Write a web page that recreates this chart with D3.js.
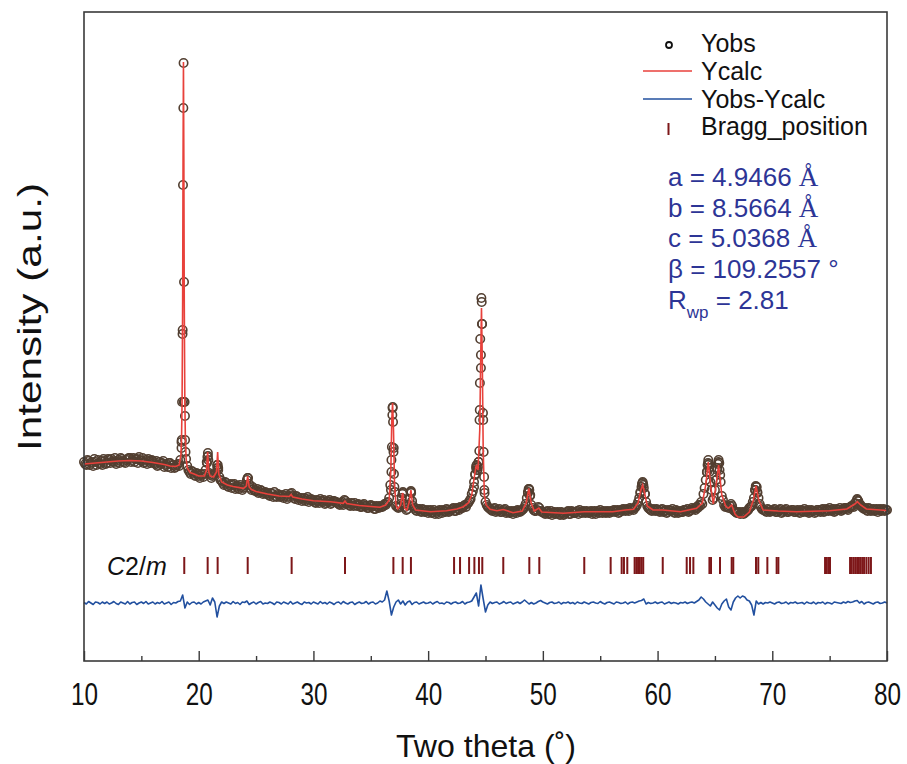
<!DOCTYPE html>
<html>
<head>
<meta charset="utf-8">
<title>Rietveld refinement</title>
<script src="https://cdn.jsdelivr.net/npm/d3@7"></script>
<style>
  body { margin: 0; background: #fff; }
  svg text { font-family: "Liberation Sans", Arial, sans-serif; }
</style>
</head>
<body>
<div id="chart"></div>
<script>

// observed pattern, sampled every 0.2 deg from 10.0 to 80.0 (a.u.)
var obsStart = 10, obsStep = 0.2;
var yObs = [
  58, 55, 59, 57, 54, 58, 60, 56, 55, 59,
  57, 60, 61, 58, 56, 60, 62, 59, 57, 61,
  62, 60, 58, 61, 63, 59, 57, 60, 61, 57,
  59, 56, 54, 58, 57, 53, 56, 57, 52, 55,
  53, 56, 60, 190, 104, 54, 48, 49, 45, 47,
  44, 46, 43, 50, 64, 45, 44, 46, 55, 43,
  39, 35, 37, 33, 36, 35, 31, 34, 35, 30,
  33, 40, 36, 30, 31, 29, 27, 30, 26, 28,
  27, 24, 26, 28, 23, 25, 24, 22, 26, 23,
  26, 24, 21, 23, 22, 19, 22, 21, 18, 21,
  20, 17, 19, 21, 18, 16, 19, 20, 17, 19,
  18, 16, 17, 15, 19, 17, 14, 16, 17, 14,
  15, 13, 16, 14, 12, 15, 14, 11, 13, 14,
  13, 16, 17, 22, 60, 72, 14, 12, 16, 27,
  13, 11, 21, 19, 12, 9, 11, 8, 10, 9,
  7, 10, 8, 6, 9, 10, 7, 9, 11, 8,
  10, 12, 9, 11, 13, 12, 15, 16, 19, 26,
  38, 54, 58, 165, 100, 18, 13, 11, 9, 12,
  9, 11, 8, 10, 7, 9, 8, 6, 9, 10,
  8, 10, 13, 22, 31, 15, 10, 9, 13, 9,
  8, 6, 9, 7, 5, 8, 7, 6, 8, 5,
  7, 9, 6, 8, 7, 9, 10, 7, 8, 9,
  7, 9, 8, 6, 9, 10, 7, 8, 9, 7,
  8, 10, 9, 7, 10, 11, 9, 10, 12, 11,
  12, 15, 22, 33, 32, 18, 12, 10, 11, 9,
  10, 8, 11, 9, 7, 10, 9, 8, 10, 7,
  9, 8, 10, 11, 9, 12, 11, 13, 15, 18,
  26, 40, 57, 38, 20, 30, 52, 50, 24, 15,
  14, 12, 16, 10, 8, 7, 6, 8, 7, 9,
  12, 14, 22, 33, 22, 13, 10, 9, 11, 8,
  9, 11, 8, 10, 7, 9, 11, 8, 9, 10,
  8, 10, 7, 9, 11, 8, 7, 10, 9, 8,
  10, 8, 11, 9, 10, 12, 9, 8, 11, 10,
  9, 11, 12, 10, 13, 14, 17, 20, 16, 13,
  11, 10, 12, 9, 11, 10, 8, 11, 10, 9,
  10
];

// observed pattern, in-between points 10.1 ... 79.9
var midStart = 10.1;
var yObsMid = [
  56, 60, 55, 58, 61, 55, 57, 59, 61, 56,
  61, 57, 59, 62, 58, 57, 61, 58, 60, 62,
  58, 62, 61, 57, 60, 62, 58, 56, 59, 60,
  57, 59, 55, 56, 59, 55, 53, 57, 55, 52,
  55, 54, 78, 118, 61, 50, 46, 48, 44, 46,
  42, 45, 46, 58, 47, 42, 45, 47, 52, 40,
  37, 38, 34, 35, 32, 36, 33, 31, 33, 32,
  35, 42, 32, 33, 29, 31, 28, 29, 27, 26,
  25, 27, 23, 24, 26, 23, 25, 24, 21, 24,
  27, 22, 24, 20, 22, 21, 19, 23, 20, 19,
  18, 20, 17, 19, 20, 17, 18, 16, 19, 18,
  17, 15, 18, 20, 16, 15, 17, 14, 15, 16,
  13, 15, 14, 12, 14, 13, 11, 14, 12, 13,
  14, 15, 18, 35, 112, 28, 13, 13, 22, 16,
  10, 15, 29, 14, 10, 11, 9, 11, 8, 10,
  9, 7, 10, 8, 6, 9, 10, 8, 10, 9,
  11, 9, 12, 10, 12, 14, 13, 17, 21, 29,
  46, 50, 110, 196, 30, 15, 12, 10, 11, 8,
  10, 8, 9, 11, 8, 7, 9, 8, 7, 9,
  9, 11, 16, 28, 25, 12, 9, 10, 12, 8,
  7, 8, 6, 9, 7, 6, 8, 5, 7, 6,
  8, 6, 9, 7, 8, 6, 8, 9, 7, 8,
  8, 6, 9, 8, 7, 8, 9, 7, 8, 9,
  9, 8, 10, 8, 9, 10, 11, 9, 11, 10,
  13, 18, 27, 37, 26, 14, 11, 9, 10, 11,
  9, 10, 8, 10, 8, 9, 11, 7, 9, 8,
  8, 10, 9, 8, 10, 11, 10, 12, 14, 16,
  32, 48, 52, 30, 22, 40, 58, 38, 20, 13,
  13, 14, 14, 9, 7, 8, 7, 6, 8, 10,
  13, 18, 30, 28, 16, 11, 10, 8, 10, 9,
  10, 8, 9, 11, 8, 10, 8, 9, 10, 8,
  9, 8, 10, 8, 9, 10, 8, 9, 7, 10,
  9, 10, 8, 11, 9, 10, 11, 9, 10, 12,
  10, 12, 11, 12, 14, 13, 16, 19, 15, 12,
  12, 9, 11, 10, 9, 11, 10, 9, 11, 10
];

// extra observed points on the reflections [2theta, intensity]
var yObsPeaks = [
  [18.50, 72], [18.52, 80], [18.55, 118], [18.59, 186], [18.63, 335], [18.66, 412],
  [18.68, 457], [18.72, 238], [18.77, 118], [18.81, 80], [18.85, 68],
  [20.72, 57], [20.76, 63], [20.80, 67], [20.84, 60],
  [21.62, 52], [21.66, 55], [21.70, 50], [24.26, 42],
  [36.76, 30], [36.80, 48], [36.84, 73], [36.88, 105], [36.91, 113], [36.94, 98],
  [36.98, 68], [37.02, 46], [37.06, 33],
  [37.76, 26], [37.80, 28], [38.48, 28], [38.52, 27],
  [44.00, 33], [44.10, 45], [44.18, 52], [44.23, 55], [44.28, 50], [44.34, 53],
  [44.40, 58], [44.46, 69], [44.48, 100], [44.51, 137], [44.54, 181], [44.60, 152],
  [44.64, 222], [44.67, 218], [44.70, 196], [44.78, 107], [44.84, 68], [44.88, 43], [44.92, 27],
  [48.70, 27], [48.76, 31], [48.82, 30], [48.88, 24],
  [58.50, 28], [58.64, 36], [58.70, 38], [58.76, 35], [58.90, 26],
  [64.30, 48], [64.36, 55], [64.42, 60], [64.48, 56], [64.52, 48],
  [65.12, 40], [65.20, 50], [65.26, 56], [65.32, 60], [65.38, 57], [65.46, 45],
  [68.50, 30], [68.56, 34], [68.64, 33], [68.70, 27],
  [77.40, 21], [77.46, 19]
];

// calculated profile [2theta, intensity]
var yCalc = [
  [10.0, 56], [11.0, 57], [12.0, 58], [13.0, 59], [14.0, 59.5], [15.0, 59], [16.0, 57.5],
  [17.0, 55.5], [17.5, 54], [18.0, 53.5], [18.3, 55], [18.45, 65], [18.5, 80], [18.55, 118],
  [18.60, 220], [18.635, 360], [18.67, 458], [18.705, 360], [18.74, 220], [18.79, 118],
  [18.84, 80], [18.9, 62], [19.0, 52], [19.25, 47.5], [19.6, 46], [20.0, 44], [20.5, 44],
  [20.68, 50], [20.78, 68], [20.88, 48], [21.0, 44], [21.3, 43], [21.55, 48], [21.65, 68],
  [21.75, 46], [22.0, 38], [22.5, 35], [23.0, 33.5], [23.9, 31.7], [24.15, 34], [24.27, 44],
  [24.4, 33], [24.6, 30.5], [25.0, 28.5], [26.0, 26], [27.0, 24], [27.9, 23.5], [28.05, 25.5],
  [28.2, 23], [29.0, 21], [30.0, 19.3], [31.5, 18.3], [32.6, 16.7], [32.75, 19], [32.9, 16.5],
  [34.0, 14.5], [35.0, 13.5], [35.8, 12.7], [36.3, 15], [36.6, 20], [36.75, 50], [36.83, 100],
  [36.9, 117], [36.98, 90], [37.07, 35], [37.2, 15], [37.35, 11], [37.6, 15], [37.78, 27],
  [37.95, 12], [38.15, 10], [38.35, 18], [38.5, 30], [38.65, 15], [38.9, 10], [40.2, 8.3],
  [41.6, 9.3], [42.5, 11], [43.07, 13.3], [43.5, 17], [43.8, 25], [44.05, 45], [44.2, 55],
  [44.35, 50], [44.5, 90], [44.58, 160], [44.65, 212], [44.72, 160], [44.8, 70], [44.9, 25],
  [45.05, 15], [45.4, 10.7], [46.0, 9.3], [46.55, 10.5], [47.4, 7.3], [48.2, 9], [48.55, 17],
  [48.78, 31.7], [48.98, 17], [49.25, 9], [49.65, 12], [49.9, 8], [51.8, 6.7], [53.6, 8.3],
  [56.1, 8.3], [57.2, 10], [57.9, 10.7], [58.3, 17], [58.55, 30], [58.7, 35], [58.85, 28],
  [59.1, 14], [59.6, 10], [60.45, 10], [62.0, 8.3], [63.4, 11.7], [63.9, 17], [64.2, 35],
  [64.42, 58], [64.65, 32], [64.86, 16], [65.1, 35], [65.32, 55], [65.6, 25], [65.96, 13.3],
  [66.2, 12], [66.46, 15], [66.75, 6], [67.0, 3], [67.5, 3], [68.0, 8], [68.35, 20],
  [68.58, 34], [68.82, 20], [69.2, 10], [70.5, 9], [72.1, 8.3], [75.0, 9.3], [76.5, 11],
  [77.2, 16], [77.42, 18.3], [77.7, 15], [78.2, 11], [79.4, 10], [80.0, 9.5]
];

// difference Yobs - Ycalc, on the 0.2 deg grid of yObs
var yDiff = [
  0.5, -1, 1.5, 0, -1.5, 1, 0.5, -1, 1, -0.5,
  1, -1, 0, 1.5, -0.5, -1.5, 1, 0, -1, 1.5,
  -1, 0.5, 1, -1.5, 0, 1, -0.5, 1.5, -1, 0,
  1, -1, 0.5, -0.5, 1.5, -1, 0, 1, -1.5, 0.5,
  0, 1.5, 2, 8, -5, 1, -1.5, 0.5, 1, -1,
  0.5, -1, 1, 2, 3, -2, 5, 1, -14, -3,
  1, -0.5, 1, 0, -1, 1.5, -0.5, 0.5, -1.5, 1,
  0.5, 2, -1.5, 0, 1, -1, 0.5, 1.5, -1, 0,
  -0.5, 1, 0, -1.5, 1, 0.5, -1, 1, 0, -1,
  1.5, -1, 0, 1, -0.5, -1.5, 1, 0, 0.5, -1,
  1, 0, -1, 1.5, -0.5, 0.5, -1, 1, 0, -1.5,
  0.5, 1, -1, 1.5, 0, -1, 0.5, 1, -1.5, 0,
  1, -0.5, 0, 1.5, -1, 0.5, 1, -1, 0, 2,
  1, 3, 12, 2, -12, -4, 1, 3, -1, 2,
  -2, 1, 2, -1.5, 0.5, 1, -1, 0, 1, -0.5,
  0, 1, -1, 0.5, 1.5, -0.5, 0, -1, 1, 0.5,
  -1, 0.5, 1, -0.5, 0, 1.5, -1, 0.5, 1, 2,
  6, 10, -3, 18, 4, -9, -2, 1, -0.5, 0.5,
  1, -1, 0, 1.5, -0.5, 0.5, 1, -1, 0, 1,
  -0.5, 1, 3, 1, -1, 0.5, -1, 0, 1.5, 2.5,
  1, 0, -1, 0.5, 1, -0.5, 0, 1, -1, 0.5,
  0, 1, -0.5, 0.5, -1, 1, 0, -0.5, 1, 0,
  -1, 0.5, 1, 0, -0.5, 1.5, 0, -1, 0.5, 1,
  0, -1, 1, 0.5, -0.5, 0, 1, -1, 0.5, 1,
  0, 1, 2, 2.5, 4, -1, 0.5, -0.5, 0, 1,
  -0.5, 0.5, 1, -1, 0, 1, -0.5, 0.5, 0, -1,
  0.5, 0, 1, -0.5, 0.5, 1, 0, 1.5, 3, 6,
  4, 1, -1, -3, 1, -2, -5, -7, -1, 2,
  4, -4, -7, 1, 5, 7, 5, 7, 6, 3,
  2, -2, -12, 2, -1, 0.5, -1, 0.5, 0, 1,
  0, -1, 0.5, 1, -0.5, 0, 1, -1, 0.5, 0,
  1, -0.5, 0, 0.5, -1, 1, 0, -0.5, 1, -1,
  0.5, 0, 1, -1, 0.5, 0, -1, 1, 0.5, 0,
  -0.5, 1, 0, 1.5, 0.5, 1, 2, 2.5, 0, 1.5,
  -1, 0.5, 1, 0, -1, 0.5, 1, -0.5, 0, 1,
  0
];

// Bragg reflections of C2/m cell (2theta)
var braggPos = [
  18.74, 20.78, 21.65, 24.27, 28.1, 32.75, 36.97, 37.78, 38.5, 42.26, 42.78, 43.57,
  44.03, 44.43, 44.72, 46.55, 48.82, 49.69, 53.61, 55.91, 56.87, 57.07, 57.36,
  58.0, 58.15, 58.3, 58.45, 58.6, 58.75, 60.45, 62.54, 62.83, 63.12, 64.52, 64.66,
  65.44, 66.46, 66.6, 68.58, 68.78, 69.57, 70.38, 70.53, 74.6, 74.75, 74.9, 75.03,
  76.78, 76.93, 77.1, 77.25, 77.4, 77.55, 77.7, 77.85, 78.0, 78.2, 78.4, 78.6
];

var xMajor = [10, 20, 30, 40, 50, 60, 70, 80];
var xMinor = [15, 25, 35, 45, 55, 65, 75];
var diffOffset = -83;
var braggLevels = [-37, -54];

var width = 907;
var height = 764;
var plotLeft = 84, plotRight = 887, plotTop = 12, plotBottom = 661;

var svg = d3.select("#chart")
	.append("svg")
	.attr("width", width)
	.attr("height", height);

var x = d3.scaleLinear().domain([10, 80]).range([plotLeft, plotRight]);
var y = d3.scaleLinear().domain([-141, 508]).range([plotBottom, plotTop]);

var plot = svg.append("g");

// Bragg markers
plot.selectAll("line.bragg")
	.data(braggPos)
	.enter()
	.append("line")
	.attr("class", "bragg")
	.attr("x1", function(d) { return x(d); })
	.attr("x2", function(d) { return x(d); })
	.attr("y1", y(braggLevels[0]))
	.attr("y2", y(braggLevels[1]))
	.attr("stroke", "#7d1719")
	.attr("stroke-width", 2);

// difference curve
var diffPts = yDiff.map(function(v, i) { return [obsStart + i * obsStep, v + diffOffset]; });
plot.append("path")
	.datum(diffPts)
	.attr("fill", "none")
	.attr("stroke", "#22509f")
	.attr("stroke-width", 1.6)
	.attr("stroke-linejoin", "round")
	.attr("d", d3.line().x(function(d) { return x(d[0]); }).y(function(d) { return y(d[1]); }));

// observed points
var obsPts = yObs.map(function(v, i) { return [obsStart + i * obsStep, v]; })
	.concat(yObsMid.map(function(v, i) { return [midStart + i * obsStep, v]; }))
	.concat(yObsPeaks);
plot.selectAll("circle.obs")
	.data(obsPts)
	.enter()
	.append("circle")
	.attr("class", "obs")
	.attr("cx", function(d) { return x(d[0]); })
	.attr("cy", function(d) { return y(d[1]); })
	.attr("r", 4.2)
	.attr("fill", "none")
	.attr("stroke", "#523f31")
	.attr("stroke-width", 1.6);

// calculated curve
plot.append("path")
	.datum(yCalc)
	.attr("fill", "none")
	.attr("stroke", "#e8413b")
	.attr("stroke-width", 1.6)
	.attr("d", d3.line().x(function(d) { return x(d[0]); }).y(function(d) { return y(d[1]); }));

// frame
svg.append("rect")
	.attr("x", plotLeft)
	.attr("y", plotTop)
	.attr("width", plotRight - plotLeft)
	.attr("height", plotBottom - plotTop)
	.attr("fill", "none")
	.attr("stroke", "#3a3a3a")
	.attr("stroke-width", 1.6);

// x axis, ticks pointing inside
var xAxis = svg.append("g")
	.attr("transform", "translate(0," + plotBottom + ")")
	.call(d3.axisBottom(x).tickValues(xMajor).tickSizeInner(-10).tickSizeOuter(0).tickPadding(22));
xAxis.select(".domain").remove();
xAxis.selectAll(".tick line").attr("stroke", "#3a3a3a").attr("stroke-width", 1.4);
xAxis.selectAll(".tick text")
	.attr("fill", "#111")
	.style("font-size", "31px")
	.attr("textLength", 27)
	.attr("lengthAdjust", "spacingAndGlyphs");

var xMinorAxis = svg.append("g")
	.attr("transform", "translate(0," + plotBottom + ")")
	.call(d3.axisBottom(x).tickValues(xMinor).tickSizeInner(-5).tickSizeOuter(0).tickFormat(""));
xMinorAxis.select(".domain").remove();
xMinorAxis.selectAll(".tick line").attr("stroke", "#3a3a3a").attr("stroke-width", 1.4);

// axis titles
svg.append("text")
	.attr("x", 486)
	.attr("y", 757)
	.attr("text-anchor", "middle")
	.attr("fill", "#111")
	.style("font-size", "32px")
	.attr("textLength", 180)
	.attr("lengthAdjust", "spacingAndGlyphs")
	.text("Two theta (\u02DA)");

svg.append("text")
	.attr("transform", "translate(41,317) rotate(-90)")
	.attr("text-anchor", "middle")
	.attr("fill", "#111")
	.style("font-size", "33px")
	.attr("textLength", 268)
	.attr("lengthAdjust", "spacingAndGlyphs")
	.text("Intensity (a.u.)");

// phase label
var phase = svg.append("text")
	.attr("x", 107)
	.attr("y", 575)
	.attr("fill", "#111")
	.style("font-size", "25px");
phase.append("tspan").style("font-style", "italic").text("C");
phase.append("tspan").text("2/");
phase.append("tspan").style("font-style", "italic").text("m");

// legend
var legend = svg.append("g");
var legendRows = [52, 79.5, 107.5, 135];

legend.append("circle")
	.attr("cx", 669).attr("cy", 45).attr("r", 3)
	.attr("fill", "none").attr("stroke", "#111").attr("stroke-width", 1.8);
legend.append("line")
	.attr("x1", 643).attr("x2", 692).attr("y1", 71).attr("y2", 71)
	.attr("stroke", "#e8413b").attr("stroke-width", 1.6);
legend.append("line")
	.attr("x1", 643).attr("x2", 692).attr("y1", 99).attr("y2", 99)
	.attr("stroke", "#22509f").attr("stroke-width", 1.6);
legend.append("line")
	.attr("x1", 668.5).attr("x2", 668.5).attr("y1", 123).attr("y2", 135)
	.attr("stroke", "#7d1719").attr("stroke-width", 2);

legend.selectAll("text")
	.data(["Yobs", "Ycalc", "Yobs-Ycalc", "Bragg_position"])
	.enter()
	.append("text")
	.attr("x", 701)
	.attr("y", function(d, i) { return legendRows[i]; })
	.attr("fill", "#111")
	.style("font-size", "25px")
	.text(function(d) { return d; });

// refined cell parameters
var params = svg.append("g")
	.attr("fill", "#2d3596")
	.style("font-size", "26px");

var cellLines = [["a = 4.9466 ", "\u00C5"], ["b = 8.5664 ", "\u00C5"], ["c = 5.0368 ", "\u00C5"]];
var paramRows = [186, 216.5, 247, 278, 308.5];

cellLines.forEach(function(c, i) {
	var t = params.append("text").attr("x", 668).attr("y", paramRows[i]);
	t.append("tspan").text(c[0]);
	t.append("tspan").style("font-family", "'Liberation Serif', 'Times New Roman', serif").style("font-size", "27px").text(c[1]);
});

params.append("text").attr("x", 668).attr("y", paramRows[3]).text("\u03B2 = 109.2557 \u00B0");

var rwp = params.append("text").attr("x", 668).attr("y", paramRows[4]);
rwp.append("tspan").text("R");
rwp.append("tspan").attr("dy", 9).style("font-size", "17px").text("wp");
rwp.append("tspan").attr("dy", -9).text(" = 2.81");

</script>
</body>
</html>
